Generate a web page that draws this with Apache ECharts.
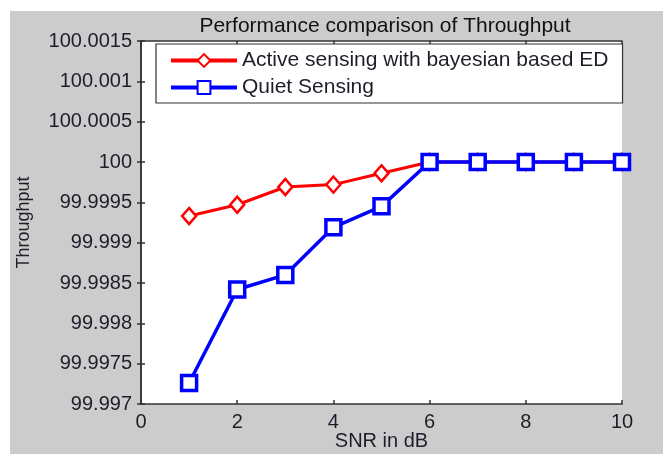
<!DOCTYPE html>
<html>
<head>
<meta charset="utf-8">
<script src="https://cdn.jsdelivr.net/npm/echarts@6/dist/echarts.min.js"></script>
<style>
html,body{margin:0;padding:0;background:#ffffff;}
#c{position:absolute;left:10px;top:11px;width:653px;height:443px;}
</style>
</head>
<body>
<div id="c"></div>
<script>
const snr = [1, 2, 3, 4, 5, 6, 7, 8, 9, 10];
const activeSensing = [99.99933, 99.99947, 99.99969, 99.99972, 99.99986, 100, 100, 100, 100, 100];
const quietSensing = [99.99726, 99.99842, 99.99860, 99.99919, 99.99945, 100, 100, 100, 100, 100];
const xTicks = [0, 2, 4, 6, 8, 10];
const yMin = 99.997, yMax = 100.0015, yStep = 0.0005;

const font = 'Arial, "Liberation Sans", sans-serif';
const labelColor = '#1e1e2a';
const chart = echarts.init(document.getElementById('c'), null, {renderer: 'canvas'});

const pairs = arr => arr.map((v, i) => [snr[i], v]);
const fmtY = v => String(parseFloat(Number(v).toFixed(4)));

const baseX = {
  type: 'value', min: xTicks[0], max: xTicks[xTicks.length - 1], interval: 2,
  splitLine: {show: false},
  axisLine: {show: true, lineStyle: {color: '#333', width: 1.5}},
  axisTick: {show: true, inside: true, length: 4, lineStyle: {color: '#333', width: 1.5}}
};
const baseY = {
  type: 'value', min: yMin, max: yMax, interval: yStep,
  splitLine: {show: false},
  axisLine: {show: true, lineStyle: {color: '#333', width: 1.5}},
  axisTick: {show: true, inside: true, length: 4, lineStyle: {color: '#333', width: 1.5}}
};

chart.setOption({
  backgroundColor: '#cccccc',
  animation: false,
  title: {
    text: 'Performance comparison of Throughput',
    left: 370, top: 0, textAlign: 'center',
    textStyle: {fontFamily: font, fontSize: 21, fontWeight: 'normal', color: '#111'}
  },
  grid: {left: 131, top: 30, right: 41, bottom: 50, show: true, backgroundColor: '#ffffff', borderWidth: 0,
         containLabel: false, outerBoundsMode: 'none'},
  legend: {
    orient: 'vertical', left: 146, top: 33,
    backgroundColor: '#ffffff', borderColor: '#333', borderWidth: 1.2, borderRadius: 0,
    padding: [6, 14, 5, 13], itemGap: 6, itemWidth: 66, itemHeight: 16,
    lineStyle: {width: 4},
    textStyle: {fontFamily: font, fontSize: 21, color: '#1e1e2a'},
    data: ['Active sensing with bayesian based ED', 'Quiet Sensing']
  },
  xAxis: [
    Object.assign({}, baseX, {
      position: 'bottom',
      name: 'SNR in dB', nameLocation: 'middle', nameGap: 27, nameMoveOverlap: false,
      nameTextStyle: {fontFamily: font, fontSize: 20, color: labelColor},
      axisLabel: {fontFamily: font, fontSize: 20, color: labelColor, margin: 8}
    }),
    Object.assign({}, baseX, {position: 'top', axisLabel: {show: false}})
  ],
  yAxis: [
    Object.assign({}, baseY, {
      position: 'left',
      name: 'Throughput', nameLocation: 'middle', nameGap: 108, nameRotate: 90,
      nameTextStyle: {fontFamily: font, fontSize: 18, color: labelColor},
      axisLabel: {fontFamily: font, fontSize: 20, color: labelColor, margin: 9, formatter: fmtY}
    }),
    Object.assign({}, baseY, {position: 'right', axisLabel: {show: false}})
  ],
  series: [
    {
      name: 'Active sensing with bayesian based ED', type: 'line',
      data: pairs(activeSensing),
      symbol: 'diamond', symbolSize: [14, 16],
      lineStyle: {color: '#ff0000', width: 3},
      itemStyle: {color: '#ffffff', borderColor: '#ff0000', borderWidth: 2.5},
      color: '#ff0000'
    },
    {
      name: 'Quiet Sensing', type: 'line',
      data: pairs(quietSensing),
      symbol: 'rect', symbolSize: 15,
      lineStyle: {color: '#0000ff', width: 3.5},
      itemStyle: {color: '#ffffff', borderColor: '#0000ff', borderWidth: 3.5},
      color: '#0000ff'
    }
  ]
});
</script>
</body>
</html>
